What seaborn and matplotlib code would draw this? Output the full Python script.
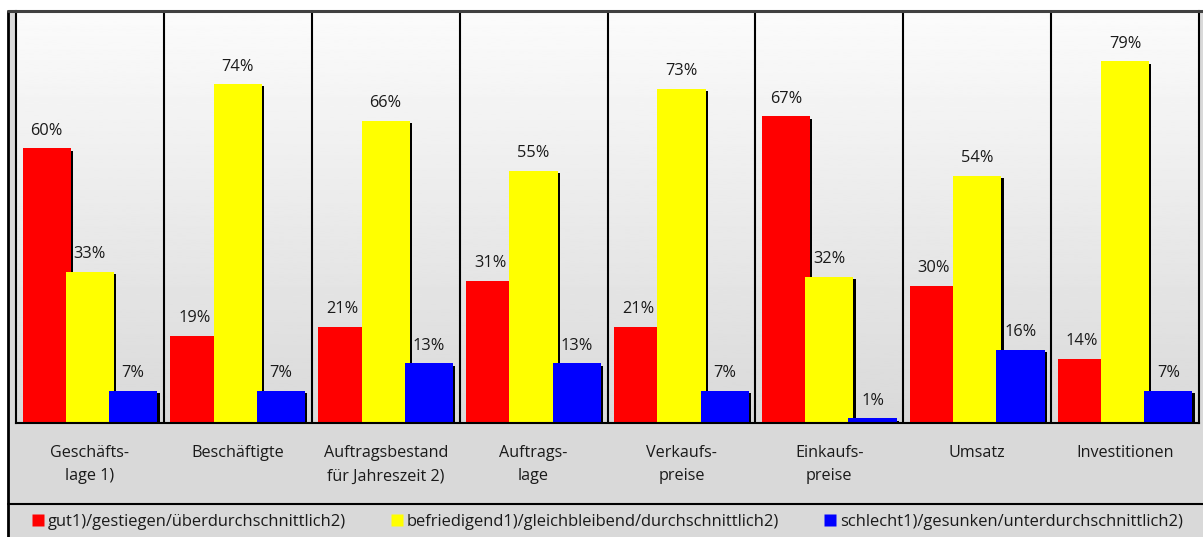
import numpy as np
import pandas as pd
import matplotlib
matplotlib.use("Agg")
import matplotlib.pyplot as plt
import matplotlib.patheffects as pe
from matplotlib.lines import Line2D
from matplotlib.patches import Rectangle
import seaborn as sns

categories = ["Geschäfts-\nlage 1)", "Beschäftigte", "Auftragsbestand\nfür Jahreszeit 2)",
              "Auftrags-\nlage", "Verkaufs-\npreise", "Einkaufs-\npreise", "Umsatz", "Investitionen"]
series = ["gut1)/gestiegen/überdurchschnittlich2)",
          "befriedigend1)/gleichbleibend/durchschnittlich2)",
          "schlecht1)/gesunken/unterdurchschnittlich2)"]
gut = [60, 19, 21, 31, 21, 67, 30, 14]
mittel = [33, 74, 66, 55, 73, 32, 54, 79]
schlecht = [7, 7, 13, 13, 7, 1, 16, 7]
colors = ["#FF0000", "#FFFF00", "#0000FF"]

rows = []
for s, vals in zip(series, [gut, mittel, schlecht]):
    for c, v in zip(categories, vals):
        rows.append({"Kategorie": c, "Serie": s, "Wert": v})
df = pd.DataFrame(rows)

sns.set_style("white")
plt.rcParams["font.family"] = ["Open Sans", "DejaVu Sans"]

W, H = 1203, 537
fig = plt.figure(figsize=(W / 100, H / 100), dpi=100)
fig.patch.set_facecolor("white")
fig.add_artist(Rectangle((8 / W, 0), 1, 526 / H, transform=fig.transFigure,
                         facecolor="#d9d9d9", edgecolor="none", zorder=-5))

ax = fig.add_axes([16 / W, 114 / H, (1199 - 16) / W, (423 - 11) / H])

sns.barplot(data=df, x="Kategorie", y="Wert", hue="Serie", order=categories,
            hue_order=series, palette=colors, saturation=1, width=0.8775,
            dodge=True, legend=False, ax=ax, zorder=2)

bw = 0.3265
for p in ax.patches:
    cx = p.get_x() + p.get_width() / 2
    p.set_width(bw)
    p.set_x(cx - bw / 2)
    p.set_edgecolor("none")
    p.set_path_effects([pe.SimplePatchShadow(offset=(1.6, -1.6), shadow_rgbFace="black", alpha=1.0),
                        pe.Normal()])

for cont, vals in zip(ax.containers, [gut, mittel, schlecht]):
    ax.bar_label(cont, labels=[f"{v}%" for v in vals], padding=7, fontsize=11.8, color="#1a1a1a")

ax.set_xlim(-0.5, len(categories) - 0.5)
ax.set_ylim(0, 90)

# gradient background
grad = np.linspace(0.85, 0.985, 256).reshape(-1, 1)
ax.imshow(grad, extent=[0, 1, 0, 1], transform=ax.transAxes, cmap="gray", vmin=0, vmax=1,
          aspect="auto", origin="lower", zorder=-1)

for b in np.arange(0.5, len(categories) - 0.5, 1):
    ax.axvline(b, color="black", lw=1.5, zorder=1)

ax.set_yticks([])
ax.set_xticks(range(len(categories)))
ax.set_xticklabels(categories, fontsize=11.6, color="#1a1a1a", linespacing=1.6)
ax.tick_params(axis="x", which="major", length=0, pad=16)
ax.set_xticks(np.arange(-0.5, len(categories), 1), minor=True)
ax.tick_params(axis="x", which="minor", length=5, width=1.5, color="black", direction="out")
ax.set_xlabel("")
ax.set_ylabel("")
for side in ["left", "right", "bottom"]:
    ax.spines[side].set_visible(True)
    ax.spines[side].set_color("black")
    ax.spines[side].set_linewidth(1.5)
ax.spines["top"].set_visible(False)

# frame lines
fig.add_artist(Line2D([8 / W, 8 / W], [0, 526 / H], transform=fig.transFigure, color="black", lw=2))
fig.add_artist(Line2D([8 / W, 1], [526 / H, 526 / H], transform=fig.transFigure, color="#404040", lw=2.2))
fig.add_artist(Line2D([8 / W, 1], [33 / H, 33 / H], transform=fig.transFigure, color="black", lw=1.5))

handles = [Line2D([], [], marker="s", linestyle="none", markersize=8, markerfacecolor=c,
                  markeredgecolor="none") for c in colors]
fig.legend(handles, series, loc="center left", bbox_to_anchor=(32 / W, 15 / H), ncol=3,
           frameon=False, fontsize=11.9, handlelength=0.7, handletextpad=0.25,
           columnspacing=2.75, borderaxespad=0, borderpad=0, labelcolor="#1a1a1a")

fig.savefig("out.png", dpi=100)
